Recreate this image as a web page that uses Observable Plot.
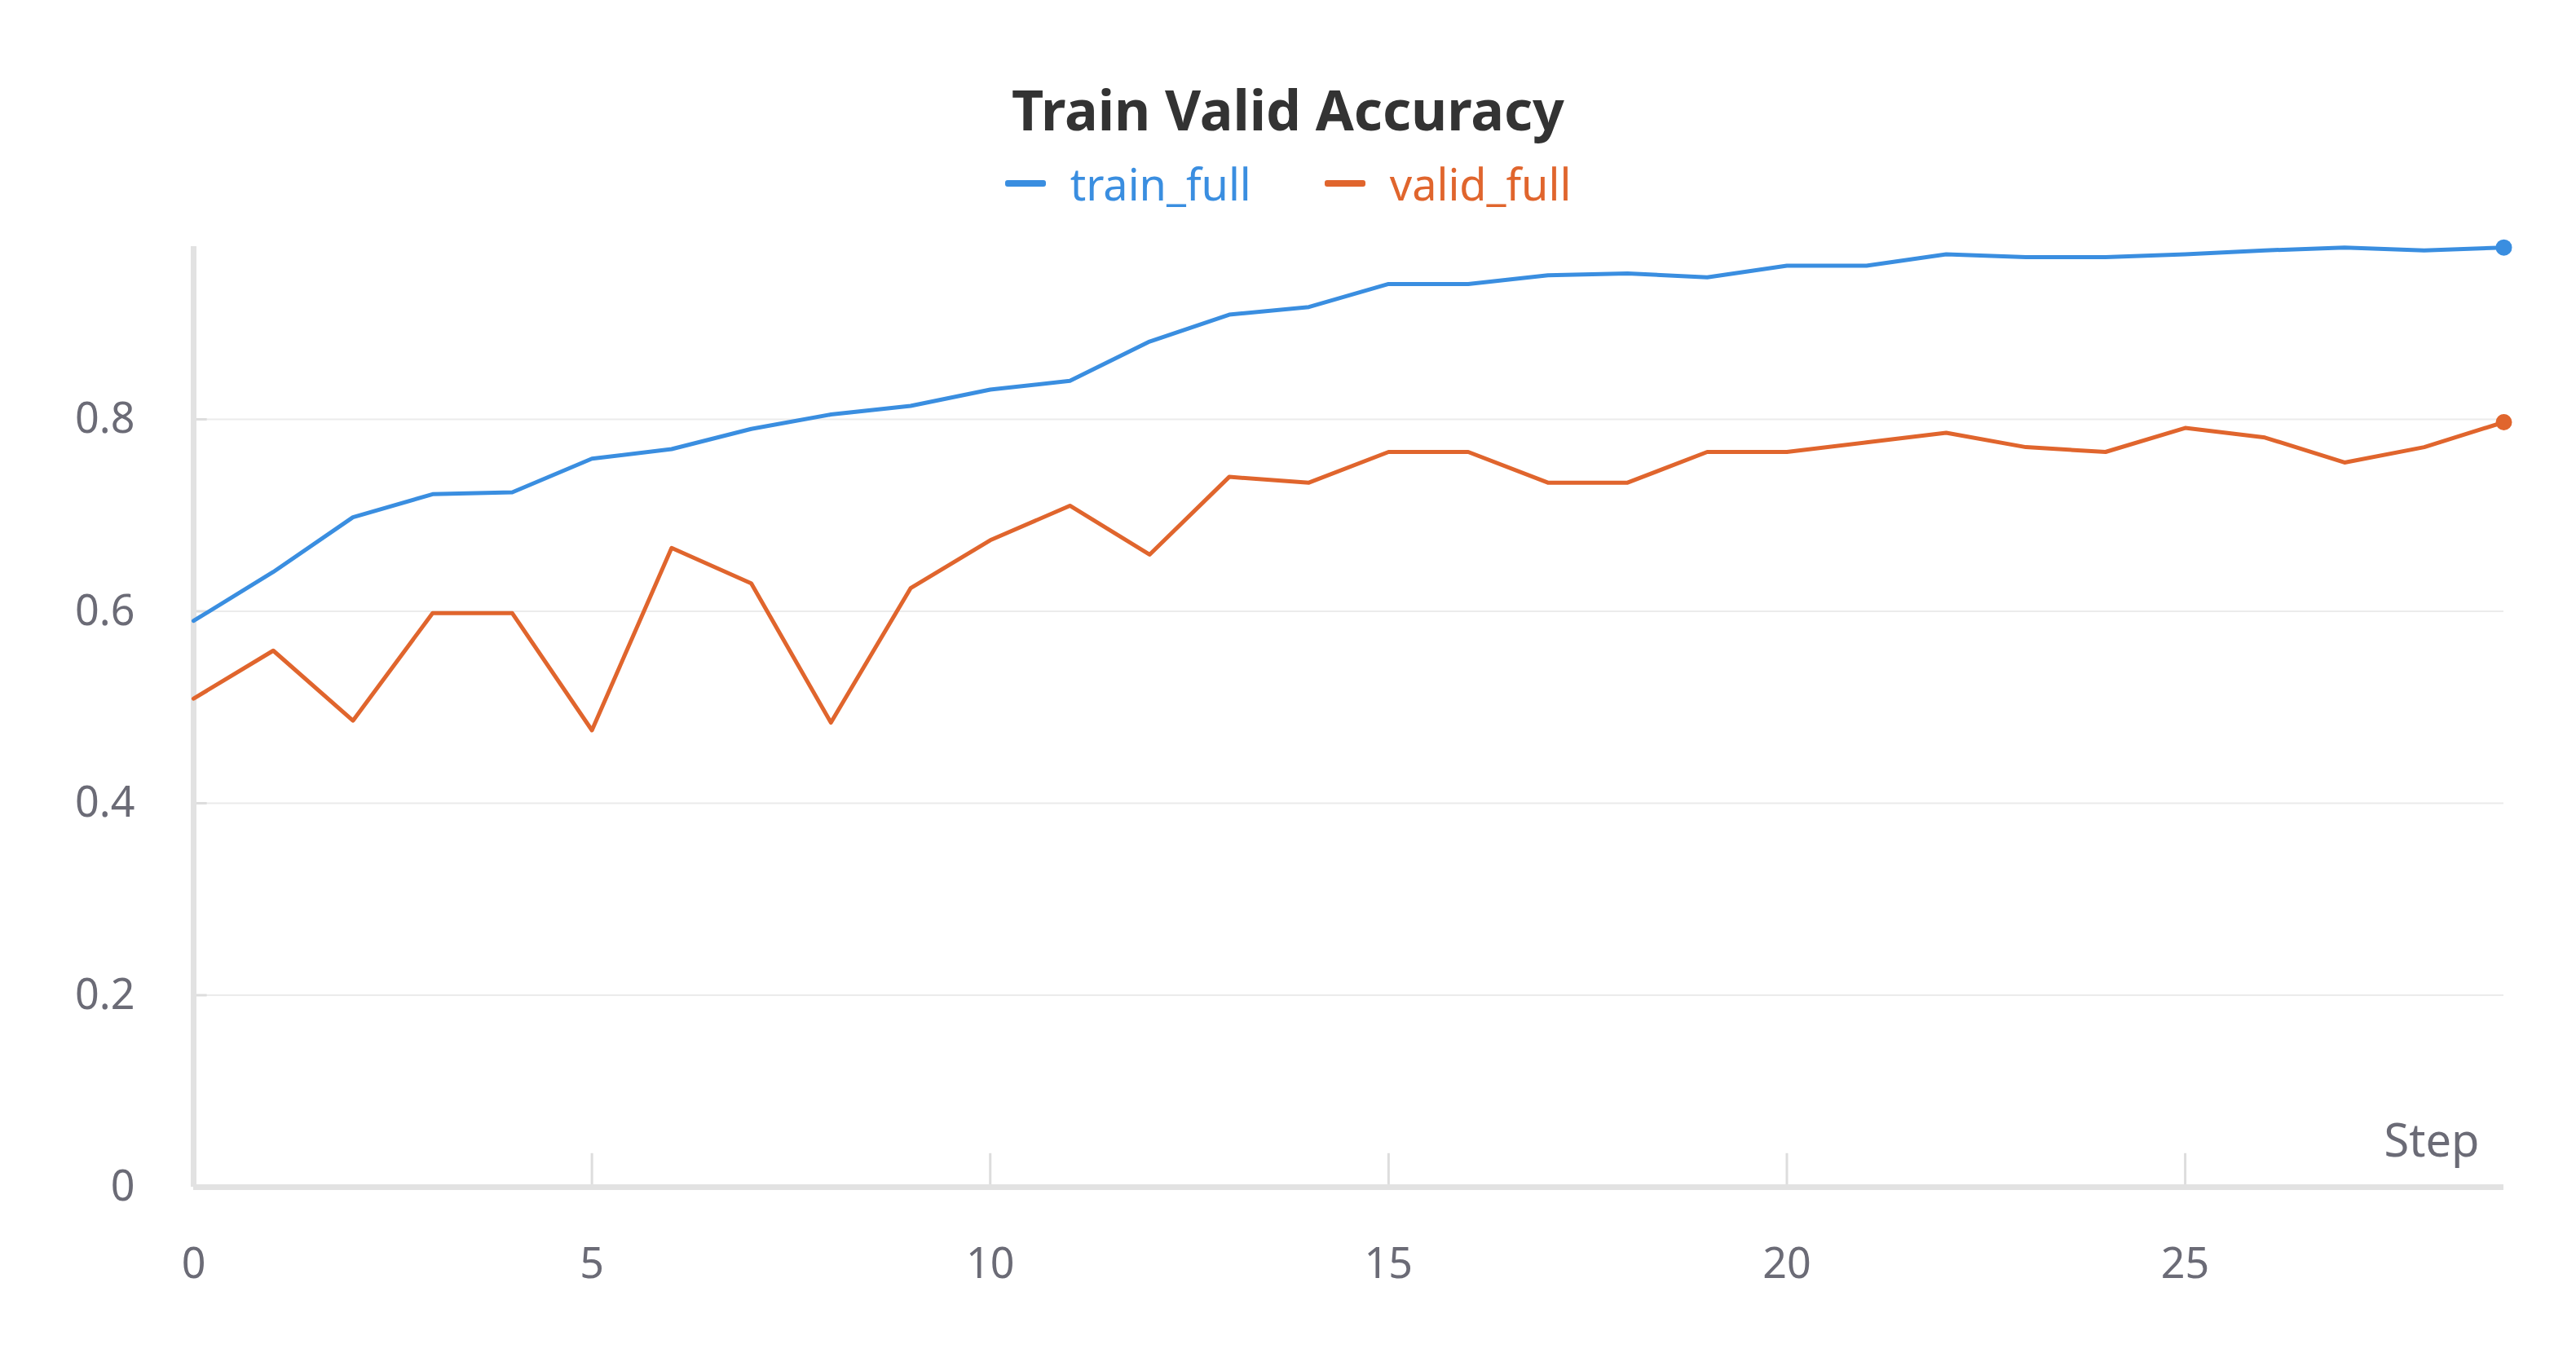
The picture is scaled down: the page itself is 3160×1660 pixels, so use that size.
<!DOCTYPE html>
<html>
<head>
<meta charset="utf-8">
<script src="https://cdn.jsdelivr.net/npm/d3@7"></script>
<script src="https://cdn.jsdelivr.net/npm/@observablehq/plot@0.6"></script>
<style>
  body { margin: 0; background: #fff; font-family: "Noto Sans", sans-serif; }
  #head { height: 290px; text-align: center; }
  #title { padding-top: 100px; font-size: 68px; font-weight: 700; color: #333; line-height: 1; }
  #legend { margin-top: 30px; display: flex; justify-content: center; gap: 90px; font-size: 54px; line-height: 1; }
  .item { display: flex; align-items: center; gap: 30px; }
  .sw { display: inline-block; width: 50px; height: 8px; border-radius: 3px; }
</style>
</head>
<body>
<div id="head">
  <div id="title">Train Valid Accuracy</div>
  <div id="legend"></div>
</div>
<div id="chart"></div>
<script>
const steps = d3.range(0, 30);
const trainFull = [0.590, 0.641, 0.698, 0.722, 0.724, 0.759, 0.769, 0.790, 0.805, 0.814,
  0.831, 0.840, 0.881, 0.909, 0.917, 0.941, 0.941, 0.950, 0.952, 0.948,
  0.960, 0.960, 0.972, 0.969, 0.969, 0.972, 0.976, 0.979, 0.976, 0.979];
const validFull = [0.509, 0.559, 0.486, 0.598, 0.598, 0.476, 0.666, 0.629, 0.484, 0.624,
  0.674, 0.710, 0.659, 0.740, 0.734, 0.766, 0.766, 0.734, 0.734, 0.766,
  0.766, 0.776, 0.786, 0.771, 0.766, 0.791, 0.781, 0.755, 0.771, 0.797];
const yTicks = [0, 0.2, 0.4, 0.6, 0.8];
const xTicks = [0, 5, 10, 15, 20, 25];
const series = [
  {name: "train_full", color: "#3a8ee0", values: trainFull},
  {name: "valid_full", color: "#e0652d", values: validFull}
];

// legend
const legend = document.getElementById("legend");
for (const s of series) {
  const item = document.createElement("div");
  item.className = "item";
  item.innerHTML = `<span class="sw" style="background:${s.color}"></span><span style="color:${s.color}">${s.name}</span>`;
  legend.appendChild(item);
}

const rows = series.flatMap(s => s.values.map((v, i) => ({step: steps[i], value: v, name: s.name, color: s.color})));
const last = series.map(s => ({step: steps[steps.length - 1], value: s.values[s.values.length - 1], color: s.color}));
const fmtY = d => d === 0 ? "0" : d.toFixed(1);

const plot = Plot.plot({
  width: 3160,
  height: 1370,
  marginLeft: 237,
  marginRight: 89,
  marginTop: 12,
  marginBottom: 204,
  x: {type: "linear", domain: [0, 29], label: null},
  y: {type: "linear", domain: [0, 0.98], label: null},
  style: {fontFamily: "Noto Sans, sans-serif", fontSize: "52px", color: "#6b6b76"},
  marks: [
    Plot.ruleY(yTicks.filter(d => d > 0), {x1: 0, x2: 29, stroke: "#ebebeb", strokeWidth: 2}),
    Plot.ruleY(yTicks, {x1: 0, x2: 0.17, stroke: "#dddddd", strokeWidth: 3}),
    Plot.ruleX(xTicks, {y1: 0, y2: 0.035, stroke: "#dddddd", strokeWidth: 3}),
    Plot.ruleX([0], {y1: 0, y2: 0.98, stroke: "#e2e2e2", strokeWidth: 7}),
    Plot.ruleY([0], {x1: 0, x2: 29, stroke: "#e2e2e2", strokeWidth: 7}),
    Plot.line(rows, {x: "step", y: "value", z: "name", stroke: "color", strokeWidth: 5}),
    Plot.dot(last, {x: "step", y: "value", fill: "color", r: 10}),
    Plot.text(["Step"], {x: 29, y: 0, dx: -30, dy: -55, textAnchor: "end", fontSize: 56, fill: "#6b6b76"}),
    Plot.axisX({ticks: xTicks, tickSize: 0, tickPadding: 75, label: null}),
    Plot.axisY({ticks: yTicks, tickSize: 0, tickPadding: 72, tickFormat: fmtY, label: null})
  ]
});
document.getElementById("chart").appendChild(plot);
</script>
</body>
</html>
